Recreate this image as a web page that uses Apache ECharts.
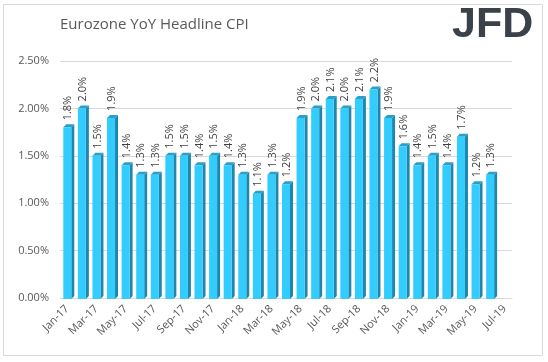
<!DOCTYPE html>
<html><head><meta charset="utf-8">
<script src="https://cdn.jsdelivr.net/npm/echarts@6/dist/echarts.min.js"></script>
<style>html,body{margin:0;padding:0;background:#fff}#c{width:548px;height:362px}</style>
</head><body><div id="c"></div>
<script>
const categories = ['Jan-17','Feb-17','Mar-17','Apr-17','May-17','Jun-17','Jul-17','Aug-17','Sep-17','Oct-17','Nov-17','Dec-17',
  'Jan-18','Feb-18','Mar-18','Apr-18','May-18','Jun-18','Jul-18','Aug-18','Sep-18','Oct-18','Nov-18','Dec-18',
  'Jan-19','Feb-19','Mar-19','Apr-19','May-19','Jun-19','Jul-19'];
const cpiValues = [1.8,2.0,1.5,1.9,1.4,1.3,1.3,1.5,1.5,1.4,1.5,1.4,
  1.3,1.1,1.3,1.2,1.9,2.0,2.1,2.0,2.1,2.2,1.9,1.6,
  1.4,1.5,1.4,1.7,1.2,1.3,null];
const yTicks = [0,0.5,1.0,1.5,2.0,2.5];

const chart = echarts.init(document.getElementById('c'), null, {renderer:'canvas'});
const FRONT = 8, SIDE = 3, DEPTH = 3;
chart.setOption({
  animation:false,
  backgroundColor:'#fff',
  graphic:[
    {type:'rect', shape:{x:3.5,y:4.5,width:539,height:351}, style:{fill:null, stroke:'#d9d9d9', lineWidth:1}, z:-1},
    {type:'text', left:60, top:17, style:{text:'Eurozone YoY Headline CPI', font:'15px "Open Sans"', fill:'#595959'}},
    {type:'text', left:452, top:4, style:{text:'JFD', font:'bold 43px "Liberation Sans"', fill:'#3a4149'}}
  ],
  grid:{left:60, right:36, top:61, bottom:64, containLabel:false},
  xAxis:{type:'category', data:categories,
    axisLine:{show:true, lineStyle:{color:'#d9d9d9'}}, axisTick:{show:false},
    axisLabel:{interval:1, rotate:45, fontSize:11, color:'#595959', fontFamily:'"Open Sans"', margin:9}},
  yAxis:{type:'value', min:yTicks[0], max:yTicks[yTicks.length-1], interval:0.5,
    axisLine:{show:false}, axisTick:{show:false},
    splitLine:{lineStyle:{color:'#d9d9d9'}},
    axisLabel:{formatter:v=>v.toFixed(2)+'%', fontSize:11, color:'#595959', fontFamily:'"Open Sans"', margin:11}},
  series:[{
    type:'custom',
    data:cpiValues.map((v,i)=>[i,v]),
    encode:{x:0,y:1},
    renderItem:function(params, api){
      const v = api.value(1);
      if (v == null || isNaN(v)) return;
      const top = api.coord([api.value(0), v]);
      const base = api.coord([api.value(0), 0]);
      const cx = top[0];
      const x0 = cx - FRONT/2, x1 = cx + FRONT/2;
      const yt = top[1], yb = base[1] + 1;
      return {type:'group', children:[
        {type:'polygon', shape:{points:[[x1,yt],[x1+SIDE,yt-DEPTH],[x1+SIDE,yb-DEPTH],[x1,yb]]}, style:{fill:'#1f87ab'}},
        {type:'polygon', shape:{points:[[x0,yt],[x0+SIDE,yt-DEPTH],[x1+SIDE,yt-DEPTH],[x1,yt]]}, style:{fill:'#2a9fc9'}},
        {type:'rect', shape:{x:x0, y:yt, width:FRONT, height:yb-yt}, style:{fill:'#33ccff'}},
        {type:'text', x:cx+1, y:yt-7, rotation:Math.PI/2,
          style:{text:v.toFixed(1)+'%', align:'left', verticalAlign:'middle', font:'11px "Open Sans"', fill:'#404040'}}
      ]};
    }
  }]
});
</script></body></html>
